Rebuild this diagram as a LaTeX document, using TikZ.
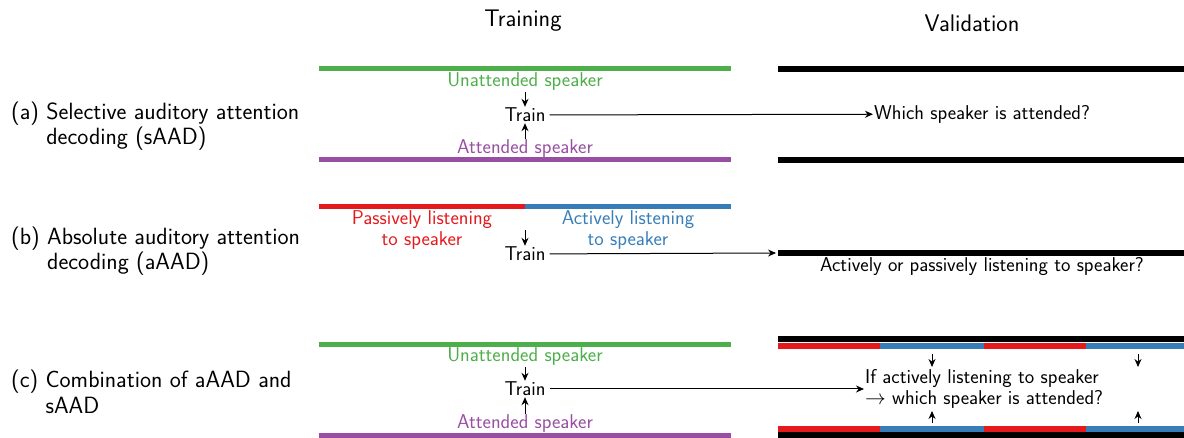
\documentclass[tikz,border=0pt]{standalone}
\usetikzlibrary{arrows.meta}
\definecolor{cgreen}{HTML}{4DAF4A}
\definecolor{cpurple}{HTML}{984EA3}
\definecolor{cred}{HTML}{E41A1C}
\definecolor{cblue}{HTML}{377EB8}
\tikzset{
  txt/.style={font=\sffamily\fontsize{20}{20.5}\selectfont, inner sep=1pt},
  big/.style={font=\sffamily\fontsize{23.5}{25.5}\selectfont, inner sep=1pt},
  head/.style={font=\sffamily\fontsize{24}{26}\selectfont, inner sep=1pt},
  trn/.style={txt, inner xsep=4pt},
  arr/.style={-{Stealth[length=8pt,width=7pt]}, line width=1pt},
  bar/.style={line width=5pt},
  kbar/.style={line width=6pt, black},
}
\begin{document}
\begin{tikzpicture}[x=1pt,y=-1pt]
\useasboundingbox (0,0) rectangle (1184,438);
% headers
\node[head] (htrain) at (523,21) {Training};
\node[head] (hval) at (972,23) {Validation};
% row labels
\node[big, anchor=west, align=left] (la) at (10,126) {(a) Selective auditory attention\\\hphantom{(a) }decoding (sAAD)};
\node[big, anchor=west, align=left] (lb) at (10,251) {(b) Absolute auditory attention\\\hphantom{(b) }decoding (aAAD)};
\node[big, anchor=west, align=left] (lc) at (10,392) {(c) Combination of aAAD and\\\hphantom{(c) }sAAD};
% ---- row a ----
\draw[bar, cgreen] (319,69) -- (731,69);
\draw[bar, cpurple] (319,160) -- (731,160);
\draw[kbar] (778,69) -- (1184,69);
\draw[kbar] (778,160) -- (1184,160);
\node[txt, text=cgreen] (ua) at (525,82) {Unattended speaker};
\node[txt, text=cpurple] (aa) at (525,149) {Attended speaker};
\node[trn] (ta) at (525,115) {Train};
\node[txt, anchor=west] (qa) at (873,114) {Which speaker is attended?};
\draw[arr] (ua) -- (ta);
\draw[arr] (aa) -- (ta);
\draw[arr] (ta) -- (qa);
% ---- row b ----
\draw[bar, cred] (319,207) -- (525,207);
\draw[bar, cblue] (525,207) -- (731,207);
\node[txt, text=cred, align=center] (pb) at (422,230) {Passively listening\\to speaker};
\node[txt, text=cblue, align=center] (ab) at (628,230) {Actively listening\\to speaker};
\node[trn] (tb) at (525,254) {Train};
\coordinate (bt) at (525,230);
\draw[arr] (bt) -- (tb);
\draw[kbar] (778,253) -- (1184,253);
\coordinate (kb) at (776,253);
\draw[arr] (tb) -- (kb);
\node[txt] (qb) at (982,267) {Actively or passively listening to speaker?};
% ---- row c ----
\draw[bar, cgreen] (319,345) -- (731,345);
\draw[bar, cpurple] (319,435) -- (731,435);
\node[txt, text=cgreen] (uc) at (525,357) {Unattended speaker};
\node[txt, text=cpurple] (ac) at (525,424) {Attended speaker};
\node[trn] (tc) at (525,389) {Train};
\node[txt, anchor=west, align=left] (qc) at (864,389) {If actively listening to speaker\\$\rightarrow$ which speaker is attended?};
\draw[arr] (uc) -- (tc);
\draw[arr] (ac) -- (tc);
\draw[arr] (tc) -- (qc);
% right bars
\draw[kbar] (778,339) -- (1184,339);
\draw[kbar] (778,435) -- (1184,435);
\draw[kbar, cred] (778,346) -- (880,346);
\draw[kbar, cblue] (880,346) -- (984,346);
\draw[kbar, cred] (984,346) -- (1086,346);
\draw[kbar, cblue] (1086,346) -- (1184,346);
\draw[kbar, cred] (778,429) -- (880,429);
\draw[kbar, cblue] (880,429) -- (984,429);
\draw[kbar, cred] (984,429) -- (1086,429);
\draw[kbar, cblue] (1086,429) -- (1184,429);
\coordinate (d1s) at (932,354); \coordinate (d1e) at (932,367);
\coordinate (d2s) at (1138,354); \coordinate (d2e) at (1138,367);
\coordinate (u1s) at (932,423); \coordinate (u1e) at (932,411);
\coordinate (u2s) at (1138,423); \coordinate (u2e) at (1138,411);
\draw[arr] (d1s) -- (d1e);
\draw[arr] (d2s) -- (d2e);
\draw[arr] (u1s) -- (u1e);
\draw[arr] (u2s) -- (u2e);
\end{tikzpicture}
\end{document}
